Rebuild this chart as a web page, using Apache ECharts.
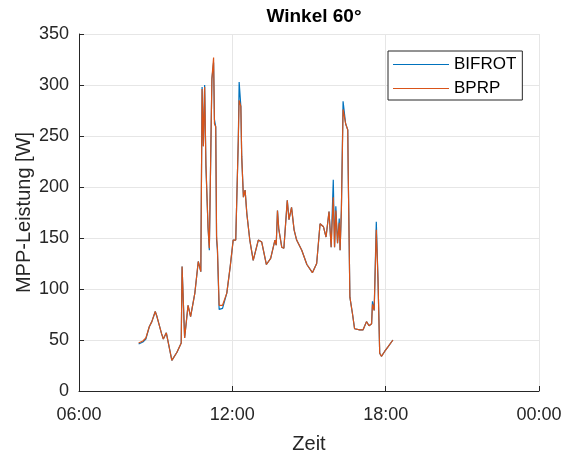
<!DOCTYPE html>
<html>
<head>
<meta charset="utf-8">
<script src="https://cdn.jsdelivr.net/npm/echarts@6/dist/echarts.min.js"></script>
<style>html,body{margin:0;padding:0;background:#fff}#c{width:565px;height:451px}</style>
</head>
<body>
<div id="c"></div>
<script>
const times = ["08:20","08:30","08:37","08:45","08:51","08:59","09:03","09:14","09:18","09:25","09:38","09:50","10:00","10:02","10:08","10:16","10:22","10:32","10:40","10:46","10:49","10:52","10:55","10:58","11:03","11:06","11:12","11:16","11:18","11:21","11:23","11:25","11:29","11:37","11:47","11:55","12:02","12:08","12:14","12:16","12:20","12:22","12:26","12:30","12:34","12:41","12:49","13:01","13:09","13:20","13:30","13:40","13:43","13:46","13:49","13:56","14:01","14:09","14:13","14:19","14:25","14:31","14:43","14:55","15:08","15:18","15:26","15:34","15:40","15:47","15:52","15:57","16:00","16:03","16:07","16:11","16:13","16:16","16:20","16:26","16:31","16:32","16:36","16:42","16:47","16:59","17:07","17:15","17:21","17:27","17:29","17:33","17:38","17:42","17:46","17:50","17:58","18:05","18:17"];
const bifrot = [46,48,51,63,68,78,73,56,51,57,30,38,47,122,52,84,73,96,127,117,298,240,300,220,160,138,306,322,266,259,148,138,80,81,96,122,148,148,246,303,279,230,190,197,174,148,128,148,146,124,130,148,143,177,159,141,140,187,168,180,158,148,138,124,116,125,164,161,151,176,141,207,141,181,145,169,138,177,284,262,256,218,92,76,61,60,60,68,64,66,88,79,166,109,37,34,39,43,50];
const bprp   = [47,49,52,63,68,78,73,56,51,57,30,38,47,122,52,84,73,96,127,117,296,240,298,222,160,140,306,327,262,259,152,140,84,84,96,122,148,148,246,285,279,230,190,197,174,148,128,148,146,124,130,148,143,177,159,141,140,187,168,180,158,148,138,124,116,125,164,161,151,176,141,190,141,177,145,165,138,177,276,262,256,216,92,76,61,60,60,68,64,66,85,79,158,109,37,34,39,43,50];
const xTicks = [6,12,18,24];
const yTicks = [0,50,100,150,200,250,300,350];

function toHours(s){const p=s.split(':');return +p[0]+(+p[1])/60;}
function pad(n){return (n<10?'0':'')+n;}
const font = '"Liberation Sans", Arial, Helvetica, sans-serif';
const axisCol = '#262626';

const chart = echarts.init(document.getElementById('c'), null, {renderer:'canvas'});
chart.setOption({
  animation:false,
  backgroundColor:'#fff',
  title:{text:'Winkel 60°',left:309,textAlign:'center',top:2,
    textStyle:{fontFamily:font,fontSize:19,fontWeight:'bold',color:'#000'}},
  legend:{
    orient:'vertical',left:388,top:51,
    data:[{name:'BIFROT',icon:'rect'},{name:'BPRP',icon:'rect'}],
    itemWidth:56,itemHeight:1.2,itemGap:7,
    padding:[5,6,3,5],
    borderColor:axisCol,borderWidth:1,backgroundColor:'#fff',
    textStyle:{fontFamily:font,fontSize:17,color:'#000'}
  },
  grid:{left:79,right:26,top:34,bottom:60,containLabel:false,outerBoundsMode:'none'},
  xAxis:{
    type:'value',min:6,max:24,interval:6,
    name:'Zeit',nameLocation:'middle',nameGap:43,nameMoveOverlap:false,
    nameTextStyle:{fontFamily:font,fontSize:20,color:axisCol},
    axisLine:{show:true,lineStyle:{color:axisCol,width:1}},
    axisTick:{show:true,inside:true,length:5,lineStyle:{color:axisCol}},
    axisLabel:{fontFamily:font,fontSize:18,color:axisCol,margin:15,
      formatter:v=>pad(v%24)+':00'},
    splitLine:{show:true,lineStyle:{color:'#e6e6e6',width:1}}
  },
  yAxis:{
    type:'value',min:0,max:350,interval:50,
    name:'MPP-Leistung [W]',nameLocation:'middle',nameGap:45,nameMoveOverlap:false,
    nameTextStyle:{fontFamily:font,fontSize:20,color:axisCol},
    axisLine:{show:true,lineStyle:{color:axisCol,width:1}},
    axisTick:{show:true,inside:true,length:5,lineStyle:{color:axisCol}},
    axisLabel:{fontFamily:font,fontSize:18,color:axisCol,margin:10},
    splitLine:{show:true,lineStyle:{color:'#e6e6e6',width:1}}
  },
  series:[
    {name:'BIFROT',type:'line',symbol:'none',color:'#0072BD',
      lineStyle:{width:1.2,color:'#0072BD'},itemStyle:{color:'#0072BD'},
      data:times.map((t,i)=>[toHours(t),bifrot[i]])},
    {name:'BPRP',type:'line',symbol:'none',color:'#D95319',
      lineStyle:{width:1.2,color:'#D95319'},itemStyle:{color:'#D95319'},
      data:times.map((t,i)=>[toHours(t),bprp[i]])}
  ]
});
</script>
</body>
</html>
